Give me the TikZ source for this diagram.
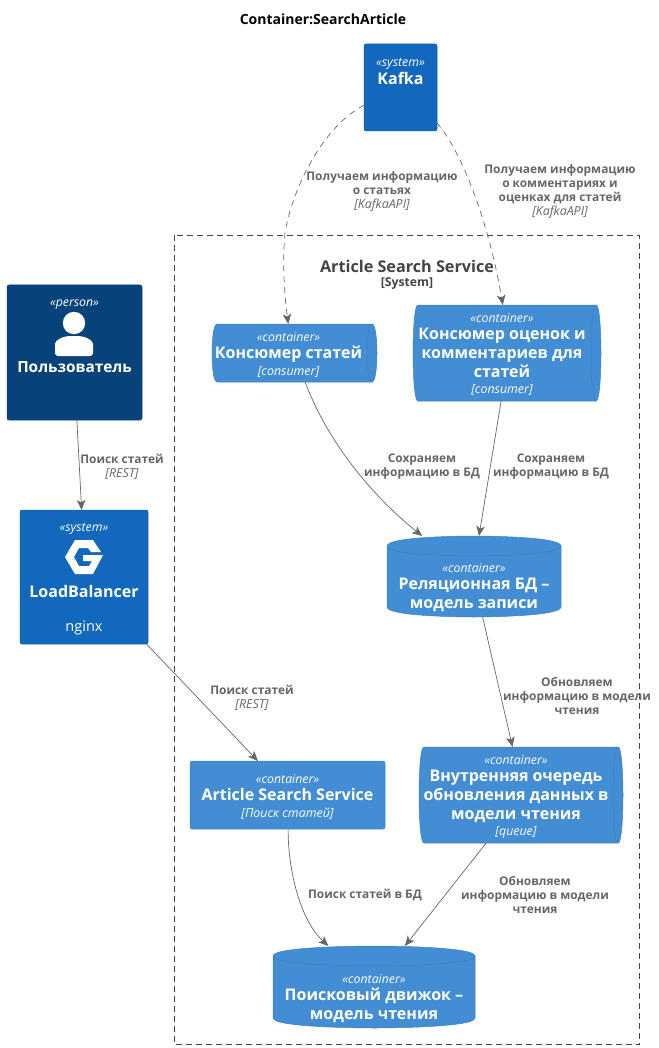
\documentclass[tikz,border=0pt]{standalone}
\usepackage{fontspec}
\setmainfont{Open Sans}
\usetikzlibrary{arrows.meta,backgrounds,calc}
\definecolor{cont}{HTML}{438DD5}
\definecolor{contl}{HTML}{3C7FC0}
\definecolor{sys}{HTML}{1168BD}
\definecolor{pers}{HTML}{08427B}
\definecolor{rel}{HTML}{666666}
\definecolor{bnd}{HTML}{444444}
\newcommand{\sz}[2]{\fontsize{#1}{#2}\selectfont}
\newcommand{\stereo}[1]{{\sz{12.3}{14}\itshape «#1»}}
\newcommand{\tech}[1]{{\sz{12.4}{14}\mdseries\itshape [#1]}}
\newcommand{\ttl}[1]{{\sz{16}{19}\bfseries #1}}
\newcommand{\cylbg}[3]{\begin{pgfonlayer}{background}\begin{scope}[shift={(#1.north west)}]
\filldraw[fill=cont,draw=contl,line width=.5pt] (0,10) .. controls (0,0) and (#2/2,0) .. (#2/2,0) .. controls (#2/2,0) and (#2,0) .. (#2,10) -- (#2,#3-10) .. controls (#2,#3) and (#2/2,#3) .. (#2/2,#3) .. controls (#2/2,#3) and (0,#3) .. (0,#3-10) -- cycle;
\draw[contl,line width=.5pt] (0,10) .. controls (0,20) and (#2/2,20) .. (#2/2,20) .. controls (#2/2,20) and (#2,20) .. (#2,10);
\end{scope}\end{pgfonlayer}}
\newcommand{\quebg}[3]{\begin{pgfonlayer}{background}\begin{scope}[shift={(#1.north west)}]
\filldraw[fill=cont,draw=contl,line width=.5pt] (5,0) -- (#2-5,0) .. controls (#2,0) and (#2,#3/2) .. (#2,#3/2) .. controls (#2,#3/2) and (#2,#3) .. (#2-5,#3) -- (5,#3) .. controls (0,#3) and (0,#3/2) .. (0,#3/2) .. controls (0,#3/2) and (0,0) .. (5,0) -- cycle;
\draw[contl,line width=.5pt] (#2-5,0) .. controls (#2-10,0) and (#2-10,#3/2) .. (#2-10,#3/2) .. controls (#2-10,#3/2) and (#2-10,#3) .. (#2-5,#3);
\end{scope}\end{pgfonlayer}}
\tikzset{
  x=1pt,y=-1pt,
  base/.style={inner sep=0pt,outer sep=0pt,text=white,align=center,font=\sz{11}{17}},
  rectbox/.style={base,rectangle,rounded corners=2pt,draw=#1!92!black,line width=.5pt,fill=#1},
  shapebox/.style={base,rectangle},
  conn/.style={draw=rel,line width=.7pt,-{Stealth[length=10pt,width=8.5pt,inset=2.5pt,fill=rel]}},
  dconn/.style={conn,dash pattern=on 6pt off 5pt},
  lab/.style={inner sep=0pt,text=rel,align=center,font=\sz{11.9}{14}\bfseries},
}
\begin{document}
\begin{tikzpicture}
\useasboundingbox (0,0) rectangle (658,1048);
\draw[bnd,line width=.7pt,dash pattern=on 6pt off 4pt] (174.5,235.5) rectangle (639.5,1044.5);
\node[text=black,inner sep=0pt,font=\sz{14}{16}\bfseries] (title) at (323,19) {Container:SearchArticle};
\node[inner sep=0pt,text=bnd,font=\sz{16.2}{18}\bfseries] (bt) at (407,266) {Article Search Service};
\node[inner sep=0pt,text=bnd,font=\sz{12.2}{14}\bfseries] (bs) at (407,284) {[System]};

\node[rectbox=pers,minimum width=135pt,minimum height=135pt] (user) at (74.5,352.5) {};
\node[base] (userst) at (74.5,305) {\stereo{person}};
\node[base] (usert) at (74.5,367) {\sz{15.4}{19}\bfseries Пользователь};
\fill[white] (74,323) circle (11.2);
\fill[white,rounded corners=3pt] (55,356) -- (55,347) .. controls (55,340) and (63,336) .. (74,336) .. controls (85,336) and (93,340) .. (93,347) -- (93,356) -- cycle;

\node[rectbox=sys,minimum width=128pt,minimum height=134pt] (lb) at (84,577) {};
\node[base] (lbst) at (84,529) {\stereo{system}};
\node[base] (lbt) at (84,591) {\ttl{LoadBalancer}};
\node[base,font=\sz{14.5}{17}] (lbn) at (84,628) {nginx};
\fill[white] (75,540) -- (93,540) -- (101,552) -- (91,552) -- (88,548) -- (79,548) -- (74,557) -- (79,566) -- (89,566) -- (92,561) -- (83,561) -- (83,555) -- (103,555) -- (93,574) -- (75,574) -- (65,557) -- cycle;

\node[rectbox=sys,minimum width=73pt,minimum height=87pt] (kafka) at (400.5,87.5) {};
\node[base] (kafkast) at (400.5,64) {\stereo{system}};
\node[base] (kafkat) at (400.5,78) {\ttl{Kafka}};

\node[shapebox,minimum width=165pt,minimum height=58pt] (c1) at (294.5,353) {};
\quebg{c1}{165}{58}
\node[base] (c1t) at (288.5,354.5) {\stereo{container}\\\ttl{Консюмер статей}\\\tech{consumer}};
\node[shapebox,minimum width=188pt,minimum height=96pt] (c2) at (507,353) {};
\quebg{c2}{188}{96}
\node[base] (c2t) at (502,354.5) {\stereo{container}\\\ttl{Консюмер оценок и}\\[2pt]\ttl{комментариев для}\\[2pt]\ttl{статей}\\[-1pt]\tech{consumer}};
\node[shapebox,minimum width=174pt,minimum height=81pt] (rdb) at (474,576.5) {};
\cylbg{rdb}{174}{81}
\node[base] (rdbt) at (474,588) {\stereo{container}\\\ttl{Реляционная БД –}\\[2pt]\ttl{модель записи}};
\node[rectbox=cont,minimum width=195pt,minimum height=68pt] (ass) at (287.5,795) {};
\node[base] (asst) at (287.5,796.5) {\stereo{container}\\\ttl{Article Search Service}\\\tech{Поиск статей}};
\node[shapebox,minimum width=204pt,minimum height=96pt] (q) at (521,795) {};
\quebg{q}{204}{96}
\node[base] (qt) at (516,797) {\stereo{container}\\\ttl{Внутренняя очередь}\\[2pt]\ttl{обновления данных в}\\[2pt]\ttl{модели чтения}\\[-1pt]\tech{queue}};
\node[shapebox,minimum width=202pt,minimum height=82pt] (se) at (374,987) {};
\cylbg{se}{202}{82}
\node[base] (set) at (374,998.5) {\stereo{container}\\\ttl{Поисковый движок –}\\[2pt]\ttl{модель чтения}};

\path[dconn] (kafka.206.9) .. controls (325,125) and (293,185) .. (285,233) .. controls (282,265) and (285,300) .. (c1.102.6);
\path[dconn] (kafka.-44.2) .. controls (468,160) and (492,240) .. (c2.95.9);
\path[conn] (user.-88.7) -- (lb.92.6);
\path[conn] (c1.-70.1) .. controls (325,435) and (365,490) .. (rdb.142.6);
\path[conn] (c2.-97.1) -- (rdb.83);
\path[conn] (rdb.-78.8) -- (q.100.6);
\path[conn] (lb.-47.2) -- (ass.131.9);
\path[conn] (ass.-89) .. controls (288,870) and (300,920) .. (se.138.3);
\path[conn] (q.-126.1) -- (se.53.8);

\node[lab] (l1) at (382,191) {Получаем информацию\\о статьях\\\tech{KafkaAPI}};
\node[lab] (l2) at (560,191.5) {Получаем информацию\\о комментариях и\\оценках для статей\\\tech{KafkaAPI}};
\node[lab] (l3) at (122,467) {Поиск статей\\\tech{REST}};
\node[lab] (l4) at (422,467) {Сохраняем\\информацию в БД};
\node[lab] (l5) at (551,467) {Сохраняем\\информацию в БД};
\node[lab] (l6) at (577,696) {Обновляем\\информацию в модели\\чтения};
\node[lab] (l7) at (252,697.5) {Поиск статей\\\tech{REST}};
\node[lab] (l8) at (365,895.5) {Поиск статей в БД};
\node[lab] (l9) at (535,895) {Обновляем\\информацию в модели\\чтения};
\end{tikzpicture}
\end{document}
